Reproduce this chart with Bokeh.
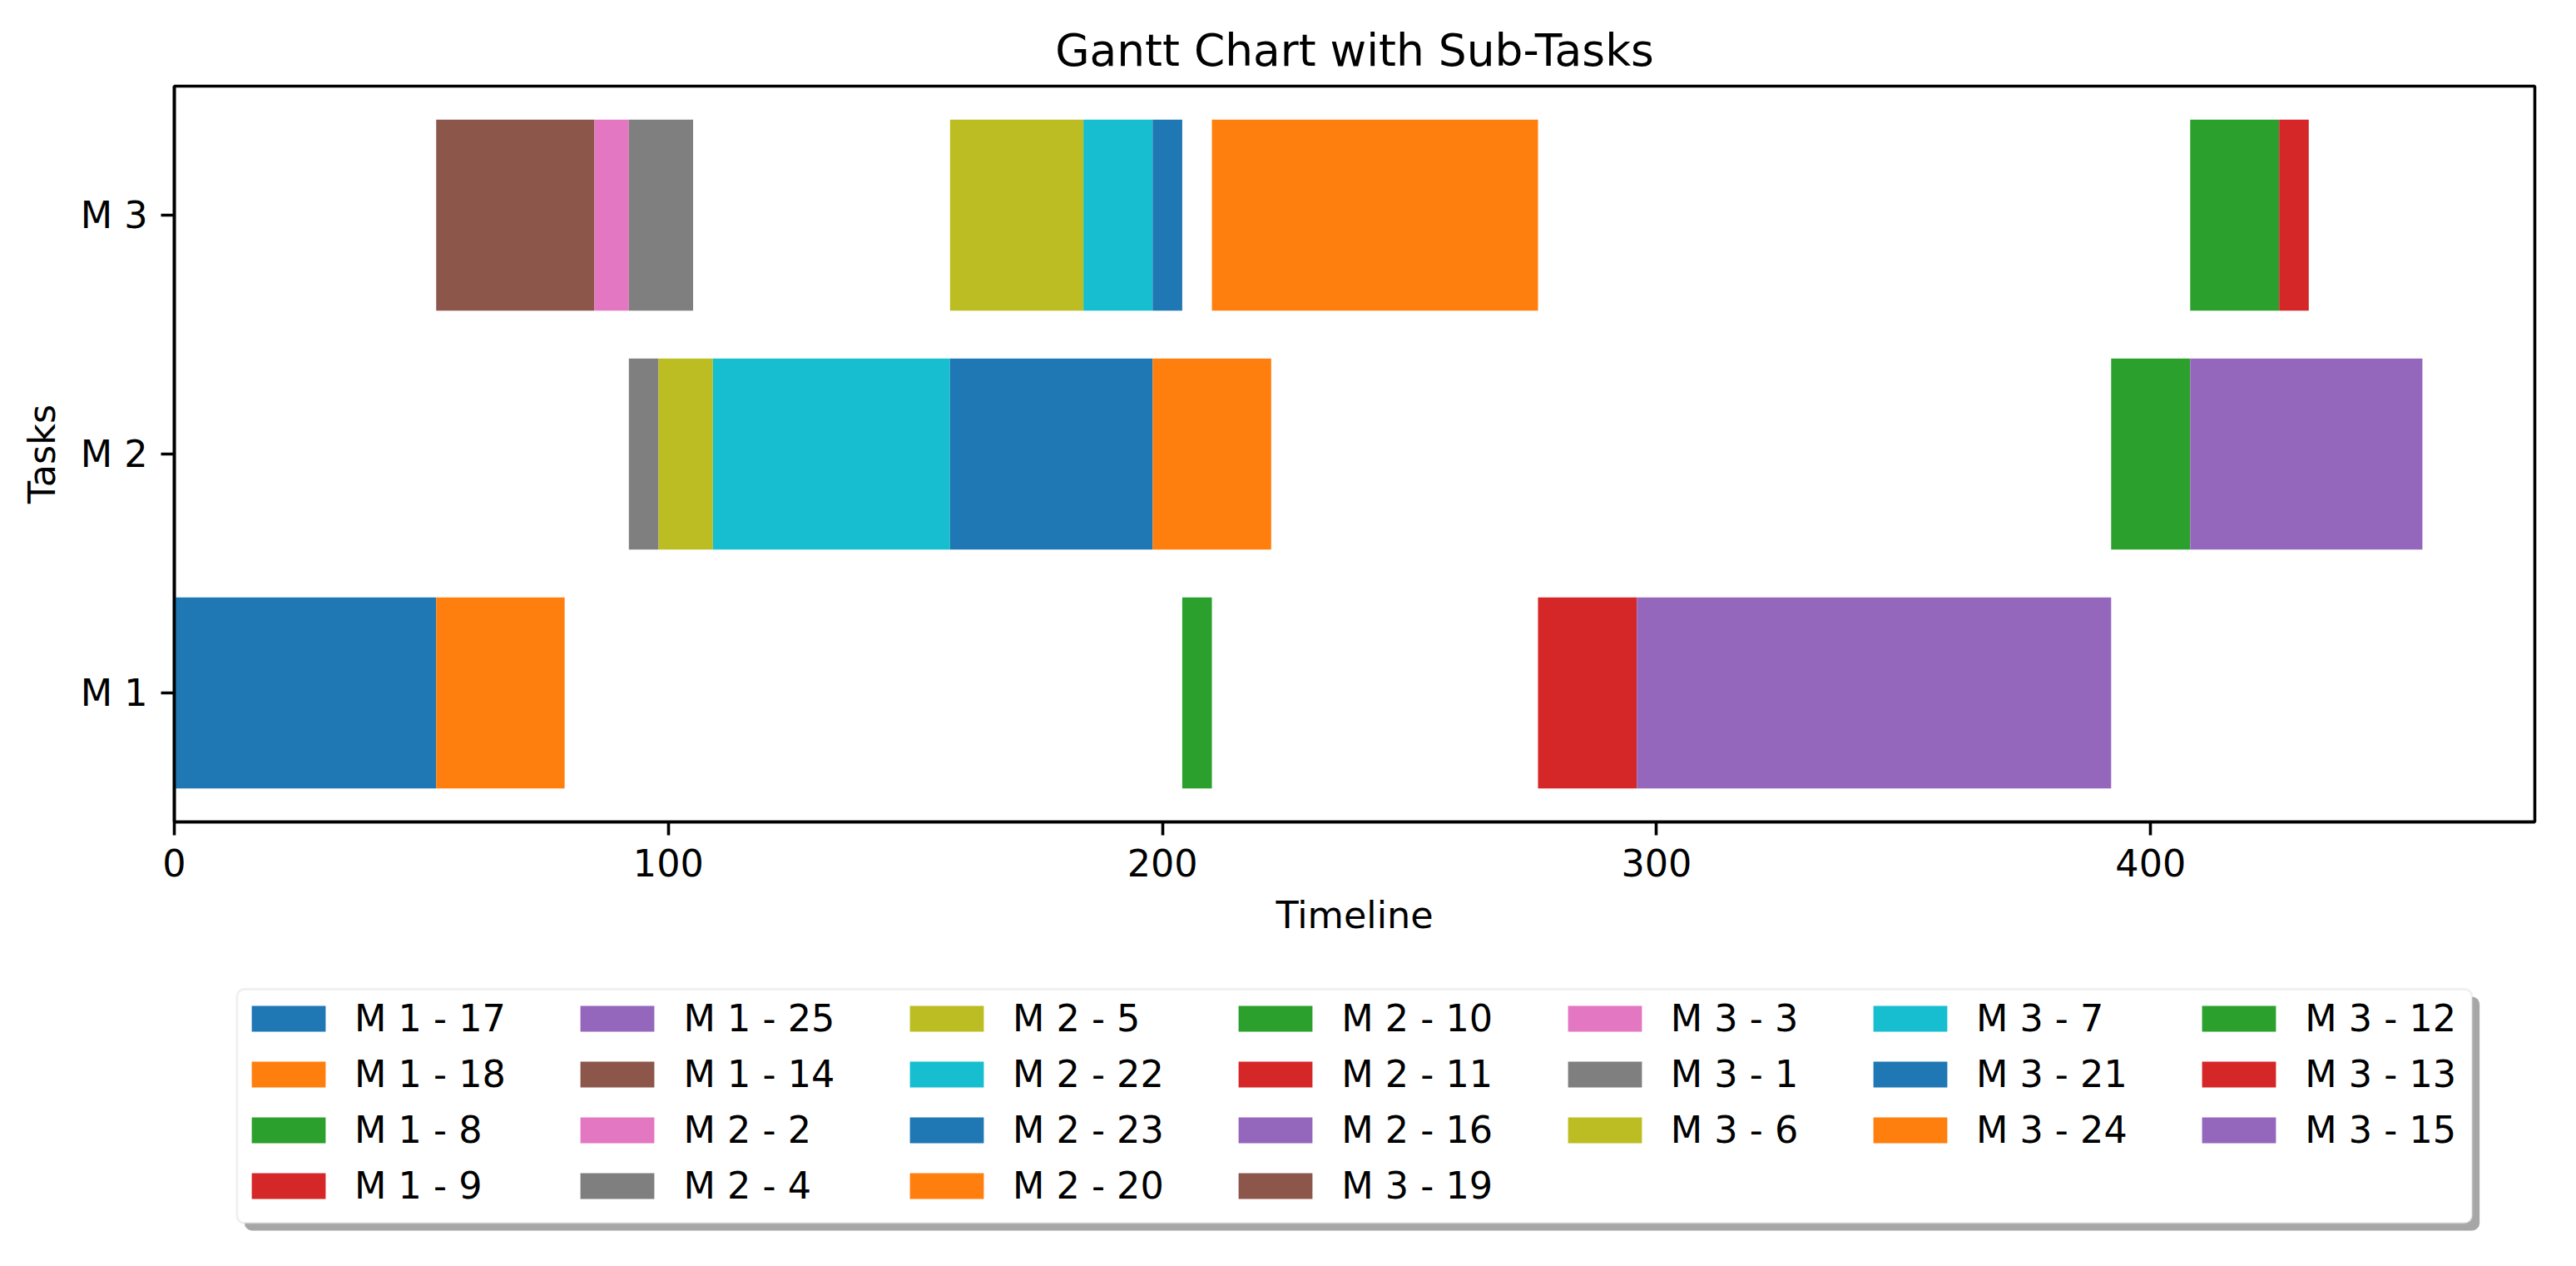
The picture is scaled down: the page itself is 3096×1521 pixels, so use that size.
from bokeh.plotting import figure
from bokeh.models import Range1d, Legend, LegendItem, BoxAnnotation
from bokeh.layouts import column
from bokeh.embed import file_html
from bokeh.resources import INLINE

# ---- data ----
machines = ["M 1", "M 2", "M 3"]
task_machine = [0, 0, 0, 0, 0, 0,
                1, 1, 1, 1, 1, 1, 1, 1, 1,
                2, 2, 2, 2, 2, 2, 2, 2, 2, 2]
task_id = [17, 18, 8, 9, 25, 14,
           2, 4, 5, 22, 23, 20, 10, 11, 16,
           19, 3, 1, 6, 7, 21, 24, 12, 13, 15]
task_start = [0, 53, 204, 276, 296, 392,
              92, 92, 98, 109, 157, 198, 392, 408, 408,
              53, 85, 92, 157, 184, 198, 210, 408, 426, 432]
task_duration = [53, 26, 6, 20, 96, 0,
                 0, 6, 11, 48, 41, 24, 16, 0, 47,
                 32, 7, 13, 27, 14, 6, 66, 18, 6, 0]
x_ticks = [0, 100, 200, 300, 400]

palette = ["#1f77b4", "#ff7f0e", "#2ca02c", "#d62728", "#9467bd",
           "#8c564b", "#e377c2", "#7f7f7f", "#bcbd22", "#17becf"]

FONT = "DejaVu Sans"
EM = 44.5
FS = f"{EM}px"
bar_h = 0.8
W = 3080
H_MAIN = 1147
H_LEG = 358
B_LEFT, B_RIGHT = 209, 34

xmax = max(s + d for s, d in zip(task_start, task_duration))
ypad = (len(machines) - 1 + bar_h) * 0.05

# ---------------- main chart ----------------
p = figure(width=W, height=H_MAIN,
           min_border_left=B_LEFT, min_border_right=B_RIGHT, min_border_top=103, min_border_bottom=160,
           x_range=Range1d(0, xmax * 1.05),
           y_range=Range1d(-bar_h / 2 - ypad, len(machines) - 1 + bar_h / 2 + ypad),
           output_backend="svg", toolbar_location=None,
           title="Gantt Chart with Sub-Tasks")

for i, (m, tid, s, d) in enumerate(zip(task_machine, task_id, task_start, task_duration)):
    p.hbar(y=[m], left=[s], right=[s + d], height=bar_h,
           fill_color=palette[i % 10], line_color=None)

p.xaxis.ticker = x_ticks
p.yaxis.ticker = list(range(len(machines)))
p.yaxis.major_label_overrides = {i: m for i, m in enumerate(machines)}
p.xaxis.axis_label = "Timeline"
p.yaxis.axis_label = "Tasks"
for ax in (p.xaxis, p.yaxis):
    ax.major_label_text_font = FONT
    ax.major_label_text_font_size = FS
    ax.major_label_text_color = "black"
    ax.axis_label_text_font = FONT
    ax.axis_label_text_font_size = FS
    ax.axis_label_text_font_style = "normal"
    ax.axis_label_text_color = "black"
    ax.major_tick_out = 16
    ax.major_tick_in = 0
    ax.minor_tick_line_color = None
    ax.major_tick_line_width = 3.6
    ax.major_tick_line_color = "black"
    ax.axis_line_width = 3.6
    ax.axis_line_color = "black"
    ax.major_label_standoff = 16
    ax.axis_label_standoff = 18
p.xgrid.grid_line_color = None
p.ygrid.grid_line_color = None
p.outline_line_color = "black"
p.outline_line_width = 3.6
p.outline_line_alpha = 1

p.title.text_font = FONT
p.title.text_font_size = f"{EM * 1.2}px"
p.title.text_font_style = "normal"
p.title.text_color = "black"
p.title.align = "center"
p.title.standoff = 23

# ---------------- legend strip (frame aligned with the main chart) ----------------
pl = figure(width=W, height=H_LEG,
            min_border_left=B_LEFT, min_border_right=B_RIGHT, min_border_top=0, min_border_bottom=0,
            x_range=Range1d(B_LEFT, W - B_RIGHT), y_range=Range1d(H_LEG, 0),
            x_axis_location=None, y_axis_location=None,
            output_backend="svg", toolbar_location=None)
pl.xgrid.grid_line_color = None
pl.ygrid.grid_line_color = None
pl.outline_line_color = None
pl.extra_y_ranges = {"off": Range1d(1000, 1001)}

items = []
labels = []
for i, (m, tid, s, d) in enumerate(zip(task_machine, task_id, task_start, task_duration)):
    r = pl.hbar(y=[m], left=[s], right=[s + d], height=bar_h,
                fill_color=palette[i % 10], line_color=None, y_range_name="off")
    lab = f"{machines[m]} - {tid}"
    labels.append(lab)
    items.append(LegendItem(label=lab, renderers=[r]))

# matplotlib-like column-major layout, 7 columns
ncols = 7
n = len(items)
nrows = -(-n // ncols)
full = n - (nrows - 1) * ncols
cols, col_labels = [], []
k = 0
for c in range(ncols):
    size = nrows if c < full else nrows - 1
    cols.append(items[k:k + size])
    col_labels.append(labels[k:k + size])
    k += size

# approximate DejaVu Sans advance widths (em) to size the columns like matplotlib
adv = {"M": 0.863, " ": 0.318, "-": 0.361}
def text_w(s):
    return sum(adv.get(ch, 0.636) for ch in s) * EM

handle_len, handle_h, text_pad, col_gap, border_pad = 2.0 * EM, 0.7 * EM, 0.8 * EM, 2.0 * EM, 0.4 * EM
col_w = [handle_len + text_pad + max(text_w(s) for s in cl) for cl in col_labels]
box_w = sum(col_w) + (ncols - 1) * col_gap + 2 * border_pad
frame_cx = (B_LEFT + W - B_RIGHT) / 2
box_left = frame_cx - box_w / 2
box_top, box_bottom = 41, 322
row_top0, item_h, row_gap = 50.5, 52, 15

shadow = BoxAnnotation(left=box_left + 9, right=box_left + box_w + 9,
                       top=box_top + 9, bottom=box_bottom + 9,
                       fill_color="#4d4d4d", fill_alpha=0.5, line_color=None, level="annotation")
frame_box = BoxAnnotation(left=box_left, right=box_left + box_w, top=box_top, bottom=box_bottom,
                          fill_color="white", fill_alpha=1, line_color="#cccccc", line_width=3,
                          level="annotation")
if "border_radius" in BoxAnnotation.properties():
    shadow.border_radius = 9
    frame_box.border_radius = 9
pl.add_layout(shadow)
pl.add_layout(frame_box)

glyph_w = int(round(handle_len / 0.8))   # bokeh insets area glyphs by 10% per side
glyph_h = int(round(handle_h / 0.8))
inset = glyph_w * 0.1
standoff = int(round(text_pad - inset))
x = box_left + border_pad
for c in range(ncols):
    nc = len(cols[c])
    lh = nc * item_h + (nc - 1) * row_gap
    lg = Legend(items=cols[c], orientation="vertical",
                location=(x - inset - B_LEFT, H_LEG - row_top0 - lh),
                label_text_font_size=FS, label_text_font=FONT, label_text_color="black",
                glyph_width=glyph_w, glyph_height=glyph_h, label_standoff=standoff,
                spacing=row_gap, label_height=item_h,
                padding=0, margin=0,
                border_line_color=None, background_fill_alpha=0)
    pl.add_layout(lg, "center")
    x += col_w[c] + col_gap

layout = column(p, pl, spacing=0)
open("out.html", "w").write(file_html(layout, INLINE))
